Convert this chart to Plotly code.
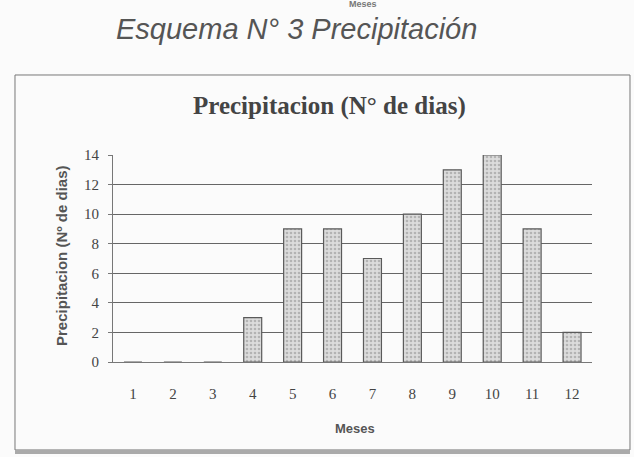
import plotly.graph_objects as go

months = ["1", "2", "3", "4", "5", "6", "7", "8", "9", "10", "11", "12"]
rain_days = [0, 0, 0, 3, 9, 9, 7, 10, 13, 14, 9, 2]
y_ticks = [0, 2, 4, 6, 8, 10, 12, 14]

fig = go.Figure()
fig.add_trace(go.Bar(
    x=months, y=rain_days, width=0.45,
    marker=dict(
        color="#d6d6d6",
        line=dict(color="#5a5a5a", width=1.2),
        pattern=dict(shape=".", fgcolor="#8a8a8a", bgcolor="#dcdcdc", size=4, solidity=0.35),
    ),
    hoverinfo="x+y",
))

fig.update_layout(
    width=634, height=457,
    margin=dict(l=113, r=42, t=155, b=95, autoexpand=False),
    paper_bgcolor="#fbfbfb", plot_bgcolor="rgba(0,0,0,0)",
    showlegend=False,
    font=dict(family="Liberation Serif", color="#444"),
    xaxis=dict(type="category", showgrid=False, showline=True, linecolor="#777",
               linewidth=1, ticks="", tickfont=dict(size=15, color="#444",
               family="Liberation Serif"), ticklabelstandoff=18),
    yaxis=dict(range=[0, 14], tickvals=y_ticks, showgrid=True, gridcolor="#666",
               gridwidth=1, showline=True, linecolor="#777", ticks="outside",
               ticklen=4, tickcolor="#777", ticklabelstandoff=6,
               tickfont=dict(size=15, color="#444", family="Liberation Serif"),
               zeroline=False),
    shapes=[
        dict(type="rect", xref="paper", yref="paper", x0=-0.2046, x1=1.0793, y0=-0.425, y1=1.3865,
             line=dict(color="#777", width=1)),
        dict(type="line", xref="paper", yref="paper", x0=-0.2046, x1=1.0793, y0=-0.435, y1=-0.435,
             line=dict(color="#aaa", width=4)),
    ],
    annotations=[
        dict(text="<b>Meses</b>", xref="paper", yref="paper", x=0.522, y=1.729, showarrow=False,
             font=dict(family="Liberation Sans", size=9, color="#777"), yanchor="middle"),
        dict(text="<i>Esquema N° 3 Precipitación</i>", xref="paper", yref="paper", x=0.384,
             y=1.609, showarrow=False, yanchor="middle",
             font=dict(family="Liberation Sans", size=29, color="#555")),
        dict(text="<b>Precipitacion (N° de dias)</b>", xref="paper", yref="paper", x=0.453,
             y=1.237, showarrow=False, yanchor="middle",
             font=dict(family="Liberation Serif", size=25, color="#444")),
        dict(text="<b>Precipitacion (Nº de dias)</b>", xref="paper", yref="paper", x=-0.1065,
             y=0.517, showarrow=False, textangle=-90, xanchor="center", yanchor="middle",
             font=dict(family="Liberation Sans", size=15, color="#555")),
        dict(text="<b>Meses</b>", xref="paper", yref="paper", x=0.505, y=-0.319,
             showarrow=False, yanchor="middle",
             font=dict(family="Liberation Sans", size=13, color="#555")),
    ],
)

fig.write_html("out.html", config={"displayModeBar": False},
               post_script="document.body.style.margin='0';document.body.style.padding='0';")
